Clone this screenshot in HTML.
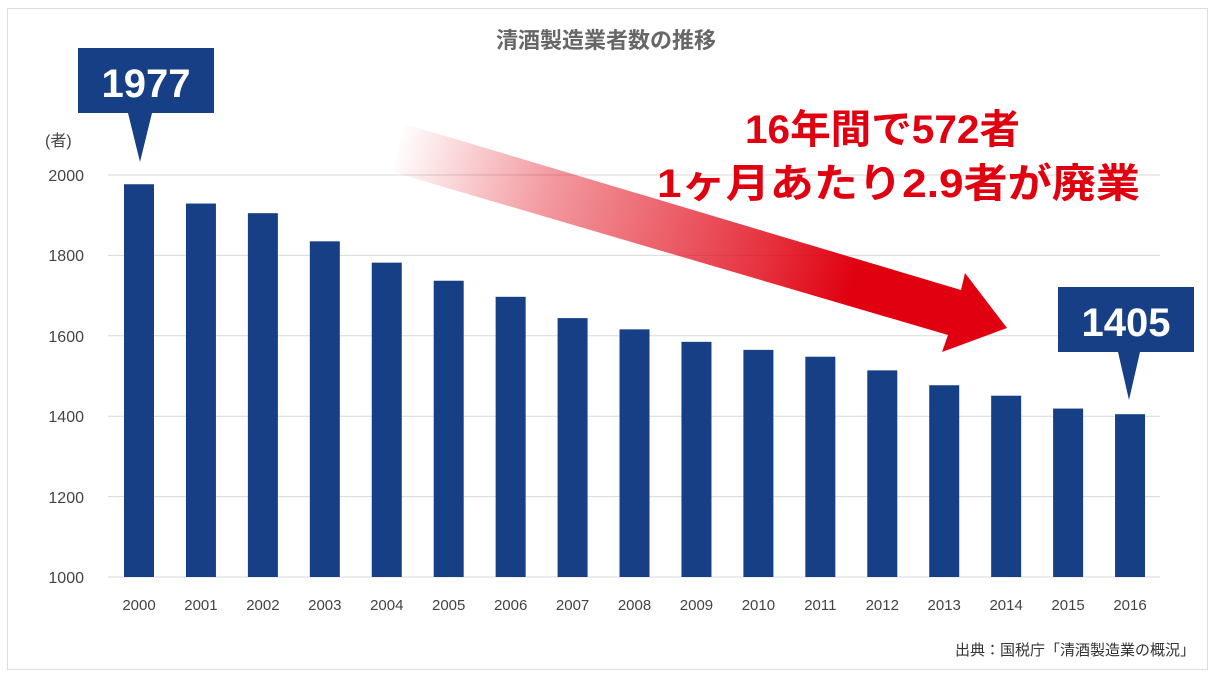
<!DOCTYPE html>
<html><head><meta charset="utf-8"><style>
body{margin:0;background:#fff;}
svg{display:block;font-family:"Liberation Sans","Noto Sans CJK JP",sans-serif;}
</style></head><body>
<svg width="1216" height="682" viewBox="0 0 1216 682">
<defs>
<linearGradient id="g" x1="395" y1="145" x2="1007" y2="328" gradientUnits="userSpaceOnUse">
<stop offset="0" stop-color="#e00010" stop-opacity="0"/>
<stop offset="0.25" stop-color="#e00010" stop-opacity="0.4"/>
<stop offset="0.6" stop-color="#e00010" stop-opacity="0.8"/>
<stop offset="0.75" stop-color="#e00010" stop-opacity="1"/>
<stop offset="1" stop-color="#e00010"/>
</linearGradient>
</defs>
<rect x="7.5" y="8.5" width="1200" height="661" fill="#fff" stroke="#ddd"/>
<text x="606" y="48" text-anchor="middle" font-size="22" font-weight="bold" fill="#666">清酒製造業者数の推移</text>
<g stroke="#d9d9d9" stroke-width="1">
<line x1="108" y1="175" x2="1160" y2="175"/>
<line x1="108" y1="255.4" x2="1160" y2="255.4"/>
<line x1="108" y1="335.8" x2="1160" y2="335.8"/>
<line x1="108" y1="416.2" x2="1160" y2="416.2"/>
<line x1="108" y1="496.6" x2="1160" y2="496.6"/>
<line x1="108" y1="577" x2="1160" y2="577"/>
</g>
<g font-size="16" fill="#444" text-anchor="end">
<text x="84" y="181">2000</text><text x="84" y="261">1800</text><text x="84" y="342">1600</text>
<text x="84" y="422">1400</text><text x="84" y="503">1200</text><text x="84" y="583">1000</text>
</g>
<text x="45" y="146" font-size="16" fill="#444">(者)</text>
<polygon points="405,124 961,290 965,273 1007,328 942,352 948,335 393,172" fill="url(#g)"/>
<g id="bars" fill="#163f86"></g>
<g id="labs" font-size="15" fill="#444" text-anchor="middle"></g>
<polygon points="78,48 214,48 214,113 152,113 140,162 128,113 78,113" fill="#163f86"/>
<text x="146" y="97" text-anchor="middle" font-size="40" font-weight="bold" fill="#fff">1977</text>
<polygon points="1058,287 1194,287 1194,352 1140,352 1129,400 1118,352 1058,352" fill="#163f86"/>
<text x="1126" y="336" text-anchor="middle" font-size="40" font-weight="bold" fill="#fff">1405</text>
<text x="745" y="143" font-size="40" font-weight="bold" fill="#e00010" textLength="275" lengthAdjust="spacingAndGlyphs">16年間で572者</text>
<text x="657" y="197" font-size="40" font-weight="bold" fill="#e00010" textLength="483" lengthAdjust="spacingAndGlyphs">1ヶ月あたり2.9者が廃業</text>
<text x="1195" y="655" text-anchor="end" font-size="15" fill="#333">出典：国税庁「清酒製造業の概況」</text>
</svg>
<script>
var v=[1977,1929,1905,1835,1782,1737,1697,1644,1616,1585,1565,1548,1514,1477,1451,1419,1405];
var ns="http://www.w3.org/2000/svg",b=document.getElementById('bars'),l=document.getElementById('labs');
v.forEach(function(d,i){var cx=139+i*61.94,y=577-(d-1000)*0.402;
var r=document.createElementNS(ns,'rect');r.setAttribute('x',cx-15);r.setAttribute('y',y);r.setAttribute('width',30);r.setAttribute('height',577-y);b.appendChild(r);
var t=document.createElementNS(ns,'text');t.setAttribute('x',cx);t.setAttribute('y',610);t.textContent=2000+i;l.appendChild(t);});
</script>
</body></html>
